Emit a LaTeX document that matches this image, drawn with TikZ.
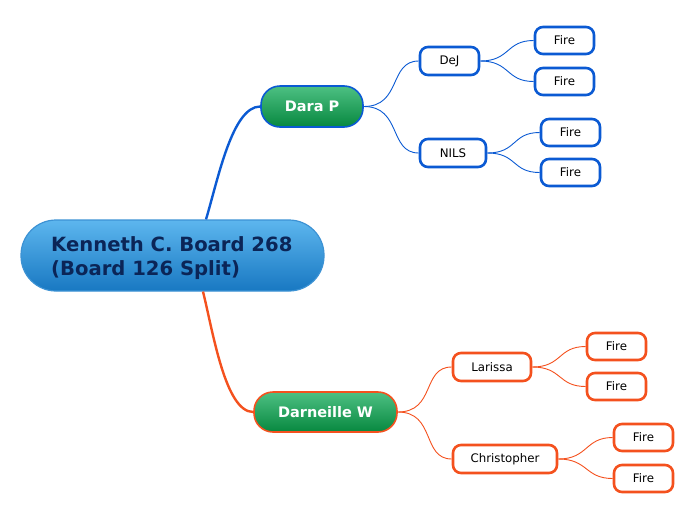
\documentclass[tikz,border=0pt]{standalone}
\usepackage{fontspec}
\setmainfont{DejaVu Sans}
\usetikzlibrary{calc}
\definecolor{bl}{HTML}{0B5AD3}
\definecolor{orng}{HTML}{F4511E}
\definecolor{navy}{HTML}{0B2557}
\definecolor{gtop}{HTML}{4DC083}
\definecolor{gbot}{HTML}{07883F}
\definecolor{rtop}{HTML}{5DB6EE}
\definecolor{rbot}{HTML}{1878C2}
\definecolor{rbord}{HTML}{3C92D4}
\begin{document}
\begin{tikzpicture}[x=1pt,y=-1pt,
  leaf/.style={draw, line width=2.6pt, rounded corners=8pt, fill=white, inner sep=0pt,
     font=\fontsize{11.8}{13}\selectfont, text=black},
  bleaf/.style={leaf, draw=bl},
  oleaf/.style={leaf, draw=orng},
  mainbox/.style={draw, line width=1.6pt, rounded corners=19pt, inner sep=0pt,
     top color=gtop, bottom color=gbot, text=white,
     font=\fontsize{14.5}{16}\selectfont\bfseries},
  rootbox/.style={draw=rbord, line width=1.2pt, rounded corners=35pt, inner sep=0pt,
     top color=rtop, bottom color=rbot},
  roottxt/.style={text=navy, font=\fontsize{19.6}{24}\selectfont\bfseries, align=left, inner sep=0pt},
  thin/.style={line width=0.9pt},
  thick/.style={line width=2.4pt}]
\useasboundingbox (0,0) rectangle (696,520);
% root
\node[rootbox, minimum width=303pt, minimum height=71pt] (root) at (172.5,255.5) {};
\node[roottxt, anchor=west] (roottext) at (51,258) {Kenneth C. Board 268\\(Board 126 Split)};
% main topics
\node[mainbox, draw=bl, minimum width=102pt, minimum height=41pt] (dara) at (312,106.5) {Dara P};
\node[mainbox, draw=orng, minimum width=143pt, minimum height=40pt] (darn) at (325.5,412) {Darneille W};
% subtopics
\node[bleaf, minimum width=59pt, minimum height=28pt] (dej) at (449.5,61) {DeJ};
\node[bleaf, minimum width=66pt, minimum height=28pt] (nils) at (453,153) {NILS};
\node[oleaf, minimum width=78pt, minimum height=28pt] (lar) at (492,367) {Larissa};
\node[oleaf, minimum width=104pt, minimum height=28pt] (chr) at (505,459) {Christopher};
% fires
\node[bleaf, minimum width=59pt, minimum height=27pt] (f1) at (564.5,40.5) {Fire};
\node[bleaf, minimum width=59pt, minimum height=27pt] (f2) at (564.5,81.5) {Fire};
\node[bleaf, minimum width=59pt, minimum height=27pt] (f3) at (570.5,132.5) {Fire};
\node[bleaf, minimum width=59pt, minimum height=27pt] (f4) at (570.5,172.5) {Fire};
\node[oleaf, minimum width=59pt, minimum height=27pt] (f5) at (616.5,346.5) {Fire};
\node[oleaf, minimum width=59pt, minimum height=27pt] (f6) at (616.5,386.5) {Fire};
\node[oleaf, minimum width=59pt, minimum height=27pt] (f7) at (643.5,437.5) {Fire};
\node[oleaf, minimum width=59pt, minimum height=27pt] (f8) at (643.5,478.5) {Fire};
% connectors
\draw[bl, thick] ($(root.north)+(33.5,0)$) .. controls +(12,-40) and +(-28,0) .. (dara.west);
\draw[orng, thick] ($(root.south)+(30.5,0)$) .. controls +(10,40) and +(-28,0) .. (darn.west);
\draw[bl, thin] (dara.east) .. controls +(38,0) and +(-30,0) .. (dej.west);
\draw[bl, thin] (dara.east) .. controls +(38,0) and +(-30,0) .. (nils.west);
\draw[bl, thin] (dej.east) .. controls +(30,0) and +(-28,0) .. (f1.west);
\draw[bl, thin] (dej.east) .. controls +(30,0) and +(-28,0) .. (f2.west);
\draw[bl, thin] (nils.east) .. controls +(30,0) and +(-28,0) .. (f3.west);
\draw[bl, thin] (nils.east) .. controls +(30,0) and +(-28,0) .. (f4.west);
\draw[orng, thin] (darn.east) .. controls +(38,0) and +(-30,0) .. (lar.west);
\draw[orng, thin] (darn.east) .. controls +(38,0) and +(-30,0) .. (chr.west);
\draw[orng, thin] (lar.east) .. controls +(30,0) and +(-28,0) .. (f5.west);
\draw[orng, thin] (lar.east) .. controls +(30,0) and +(-28,0) .. (f6.west);
\draw[orng, thin] (chr.east) .. controls +(30,0) and +(-28,0) .. (f7.west);
\draw[orng, thin] (chr.east) .. controls +(30,0) and +(-28,0) .. (f8.west);
\end{tikzpicture}
\end{document}
